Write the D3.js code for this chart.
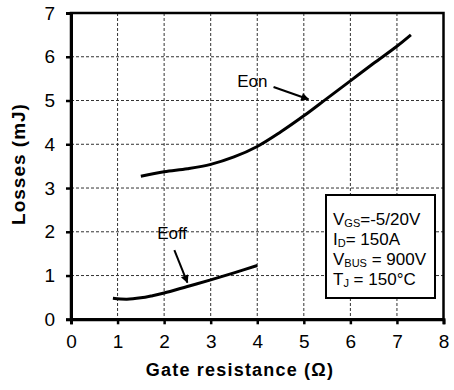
<!DOCTYPE html>
<html>
<head>
<meta charset="utf-8">
<script src="https://cdn.jsdelivr.net/npm/d3@7"></script>
<style>
  body { margin: 0; background: #fff; }
  text { font-family: "Liberation Sans", Arial, sans-serif; }
</style>
</head>
<body>
<svg id="chart" width="454" height="390"></svg>
<script>
// values
var eonR = [1.5, 2, 2.5, 3, 3.5, 4, 4.5, 5, 5.5, 6, 6.5, 7, 7.3];
var eonLoss = [3.27, 3.37, 3.44, 3.54, 3.71, 3.95, 4.28, 4.65, 5.05, 5.45, 5.85, 6.24, 6.5];
var eoffR = [0.9, 1.2, 1.5, 1.75, 2, 2.5, 3, 3.5, 4];
var eoffLoss = [0.48, 0.46, 0.49, 0.54, 0.6, 0.75, 0.9, 1.06, 1.23];
var xTicks = [0, 1, 2, 3, 4, 5, 6, 7, 8];
var yTicks = [0, 1, 2, 3, 4, 5, 6, 7];

var svg = d3.select("#chart");

// plot area
var plotL = 71, plotR = 443.5, plotT = 13, plotB = 319.3;

var x = d3.scaleLinear().domain([0, 8]).range([plotL, plotR]);
var y = d3.scaleLinear().domain([0, 7]).range([plotB, plotT]);

// dashed grid
svg.append("g").selectAll("line")
  .data(xTicks.slice(1, -1))
  .enter().append("line")
  .attr("x1", function(d) { return x(d); })
  .attr("x2", function(d) { return x(d); })
  .attr("y1", plotT).attr("y2", plotB)
  .attr("stroke", "#333").attr("stroke-width", 1)
  .attr("stroke-dasharray", "3,2");

svg.append("g").selectAll("line")
  .data(yTicks.slice(1, -1))
  .enter().append("line")
  .attr("y1", function(d) { return y(d); })
  .attr("y2", function(d) { return y(d); })
  .attr("x1", plotL).attr("x2", plotR)
  .attr("stroke", "#333").attr("stroke-width", 1)
  .attr("stroke-dasharray", "3,2");

// frame
svg.append("rect")
  .attr("x", plotL).attr("y", plotT)
  .attr("width", plotR - plotL).attr("height", plotB - plotT)
  .attr("fill", "none").attr("stroke", "#000").attr("stroke-width", 2.5);

// axes
var xAxis = svg.append("g")
  .attr("transform", "translate(0," + plotB + ")")
  .call(d3.axisBottom(x).tickValues(xTicks).tickSize(5).tickPadding(10).tickFormat(d3.format("d")));
var yAxis = svg.append("g")
  .attr("transform", "translate(" + plotL + ",0)")
  .call(d3.axisLeft(y).tickValues(yTicks).tickSize(5).tickPadding(11).tickFormat(d3.format("d")));

[xAxis, yAxis].forEach(function(a) {
  a.select(".domain").attr("stroke-width", 3);
  a.selectAll(".tick line").attr("stroke-width", 2.5);
  a.selectAll(".tick text")
    .style("font-family", "'Liberation Sans', Arial, sans-serif")
    .style("font-size", "19px").attr("fill", "#000");
});

// axis titles
svg.append("text")
  .attr("x", 240).attr("y", 376)
  .attr("text-anchor", "middle")
  .style("font-size", "18px").style("font-weight", "bold")
  .style("letter-spacing", "1.2px")
  .text("Gate resistance (Ω)");

svg.append("text")
  .attr("transform", "translate(25,164) rotate(-90)")
  .attr("text-anchor", "middle")
  .style("font-size", "19px").style("font-weight", "bold")
  .style("letter-spacing", "1px")
  .text("Losses (mJ)");

// curves
var line = d3.line()
  .x(function(d) { return x(d[0]); })
  .y(function(d) { return y(d[1]); })
  .curve(d3.curveCatmullRom.alpha(0.5));

svg.append("path")
  .datum(d3.zip(eonR, eonLoss))
  .attr("d", line)
  .attr("fill", "none").attr("stroke", "#000").attr("stroke-width", 3);

svg.append("path")
  .datum(d3.zip(eoffR, eoffLoss))
  .attr("d", line)
  .attr("fill", "none").attr("stroke", "#000").attr("stroke-width", 3);

// arrowhead
svg.append("defs").append("marker")
  .attr("id", "arrow")
  .attr("viewBox", "0 0 10 10")
  .attr("refX", 9).attr("refY", 5)
  .attr("markerWidth", 5).attr("markerHeight", 4)
  .attr("markerUnits", "strokeWidth")
  .attr("orient", "auto")
  .append("path").attr("d", "M0,0 L10,5 L0,10 z").attr("fill", "#000");

// annotations (data units)
svg.append("text")
  .attr("x", x(3.57)).attr("y", y(5.3))
  .style("font-size", "17px").text("Eon");
svg.append("line")
  .attr("x1", x(4.35)).attr("y1", y(5.31))
  .attr("x2", x(5.1)).attr("y2", y(5.03))
  .attr("stroke", "#000").attr("stroke-width", 2)
  .attr("marker-end", "url(#arrow)");

svg.append("text")
  .attr("x", x(1.85)).attr("y", y(1.83))
  .style("font-size", "17px").text("Eoff");
svg.append("line")
  .attr("x1", x(2.22)).attr("y1", y(1.58))
  .attr("x2", x(2.5)).attr("y2", y(0.84))
  .attr("stroke", "#000").attr("stroke-width", 2)
  .attr("marker-end", "url(#arrow)");

// conditions box
svg.append("rect")
  .attr("x", 326).attr("y", 195)
  .attr("width", 109).attr("height", 103)
  .attr("fill", "#fff").attr("stroke", "#000").attr("stroke-width", 2);

var condLines = [
  [["V", ""], ["GS", "sub"], ["=-5/20V", ""]],
  [["I", ""], ["D", "sub"], ["= 150A", ""]],
  [["V", ""], ["BUS", "sub"], [" = 900V", ""]],
  [["T", ""], ["J", "sub"], [" = 150°C", ""]]
];
condLines.forEach(function(parts, i) {
  var t = svg.append("text")
    .attr("x", 333).attr("y", 225 + i * 20)
    .style("font-size", "17px");
  parts.forEach(function(p) {
    var s = t.append("tspan").text(p[0]);
    if (p[1] === "sub") s.style("font-size", "11px").attr("dy", 2);
    else if (t.selectAll("tspan").size() > 1) s.attr("dy", -2);
  });
});
</script>
</body>
</html>
